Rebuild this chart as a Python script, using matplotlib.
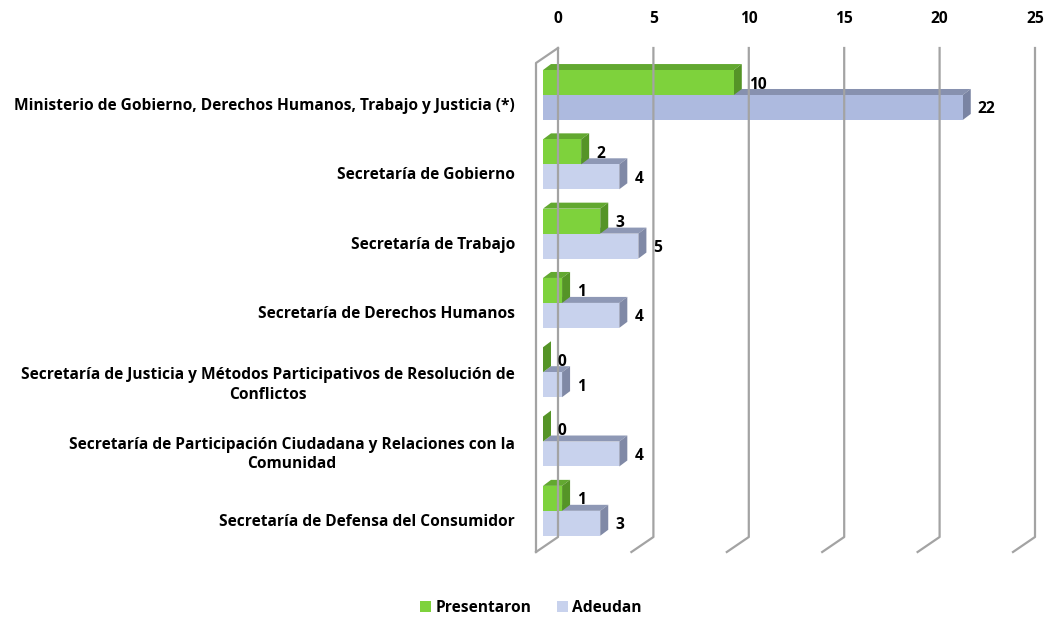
import matplotlib
matplotlib.use("Agg")
import matplotlib.pyplot as plt
from matplotlib.patches import Polygon, Patch
from matplotlib.transforms import IdentityTransform

plt.rcParams['font.family'] = ['Open Sans', 'DejaVu Sans']
plt.rcParams['font.weight'] = 'bold'
fs = 11.2

categorias = [
    "Ministerio de Gobierno, Derechos Humanos, Trabajo y Justicia (*)",
    "Secretaría de Gobierno",
    "Secretaría de Trabajo",
    "Secretaría de Derechos Humanos",
    "Secretaría de Justicia y Métodos Participativos de Resolución de\nConflictos",
    "Secretaría de Participación Ciudadana y Relaciones con la\nComunidad",
    "Secretaría de Defensa del Consumidor",
]
presentaron = [10, 2, 3, 1, 0, 0, 1]
adeudan = [22, 4, 5, 4, 1, 4, 3]
xticks = [0, 5, 10, 15, 20, 25]

# colores: frente, techo, lateral
verde = ('#7ED23C', '#62A830', '#559427')
azul_oscuro = ('#ADBADF', '#8791AF', '#7A84A3')
azul = ('#C8D2ED', '#8E98B5', '#8089A6')
azules = [azul_oscuro] + [azul] * 6

W, H = 1044, 621
fig = plt.figure(figsize=(W / 100, H / 100), dpi=100)
ax = fig.add_axes([558 / W, 1 - 537 / H, 477 / W, 489 / H])
ax.set_xlim(0, 25)
ax.set_ylim(6.248, -0.808)
for s in ax.spines.values():
    s.set_visible(False)
ax.xaxis.tick_top()
ax.set_xticks(xticks)
ax.set_yticks(range(len(categorias)))
ax.set_yticklabels(categorias, multialignment='center', linespacing=1.3)
ax.tick_params(axis='x', length=0, pad=15, labelsize=fs)
ax.tick_params(axis='y', length=0, pad=31, labelsize=fs)

ident = IdentityTransform()
gris = '#A3A3A3'

def px(x, y):
    return ax.transData.transform((x, y))

# paredes / grilla
wall = (-22, -15)
for xv in xticks:
    xb, yt = px(xv, -0.808)
    _, yb = px(xv, 6.248)
    ax.add_line(plt.Line2D([xb, xb, xb + wall[0]], [yt, yb, yb + wall[1]],
                           transform=ident, color=gris, lw=1.6, clip_on=False))
xb, yt = px(0, -0.808)
_, yb = px(0, 6.248)
ax.add_line(plt.Line2D([xb, xb + wall[0], xb + wall[0]],
                       [yt, yt + wall[1], yb + wall[1]],
                       transform=ident, color=gris, lw=1.6, clip_on=False))

front = (-15, 9)
depth = (8, 6)
alto = 0.36

def barra(valor, y0, y1, cols):
    (xa, ya) = px(0, y1)
    (xc, yc) = px(valor, y0)
    xa += front[0]; xc += front[0]
    ya += front[1]; yc += front[1]
    dx, dy = depth
    caras = [
        ([(xa, yc), (xc, yc), (xc + dx, yc + dy), (xa + dx, yc + dy)], cols[1]),
        ([(xc, ya), (xc, yc), (xc + dx, yc + dy), (xc + dx, ya + dy)], cols[2]),
        ([(xa, ya), (xc, ya), (xc, yc), (xa, yc)], cols[0]),
    ]
    for pts, c in caras:
        ax.add_patch(Polygon(pts, closed=True, transform=ident, facecolor=c,
                             edgecolor='none', clip_on=False))

for i in range(len(categorias)):
    barra(adeudan[i], i, i + alto, azules[i])
    barra(presentaron[i], i - alto, i, verde)
    ax.annotate(str(presentaron[i]), (presentaron[i], i - alto / 2),
                xytext=(0, 7), textcoords='offset pixels', ha='left',
                va='center', fontsize=fs, fontweight='bold')
    ax.annotate(str(adeudan[i]), (adeudan[i], i + alto / 2),
                xytext=(0, 7), textcoords='offset pixels', ha='left',
                va='center', fontsize=fs, fontweight='bold')

handles = [Patch(facecolor=verde[0], label='Presentaron'),
           Patch(facecolor=azul[0], label='Adeudan')]
fig.legend(handles=handles, loc='center', bbox_to_anchor=(531 / W, 1 - 608 / H),
           ncol=2, frameon=False, handlelength=0.7, handleheight=0.7,
           handletextpad=0.3, columnspacing=1.6, fontsize=fs)

fig.savefig('out.png', dpi=100)
